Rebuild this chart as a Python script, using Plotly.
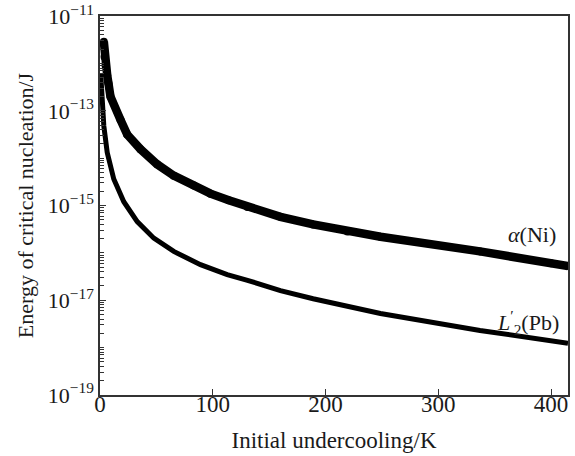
import plotly.graph_objects as go

# alpha(Ni) curve: undercooling (K) and log10 of energy (J)
ni_dT = [3.4, 4.0, 4.9, 6.4, 7.5, 9.3, 18.2, 24.1, 35.9, 50.7, 65.4, 83.2, 98,
         114.2, 130.8, 160, 189, 219.4, 248.7, 337, 400, 415]
ni_logE = [-11.54, -11.86, -12.04, -12.25, -12.42, -12.70, -13.19, -13.50, -13.81,
           -14.13, -14.37, -14.58, -14.75, -14.89, -15.03, -15.24, -15.40, -15.55,
           -15.66, -15.97, -16.22, -16.28]

# L'2(Pb) curve
pb_dT = [0.6, 3.4, 6.4, 12.2, 21.1, 33, 47.7, 65.4, 89.1, 112.8, 130.8, 160, 189,
         219, 248.7, 337, 400, 415]
pb_logE = [-12.21, -13.32, -13.88, -14.44, -14.92, -15.34, -15.69, -15.97, -16.25,
           -16.46, -16.58, -16.80, -16.97, -17.12, -17.28, -17.64, -17.87, -17.91]

ni_E = [10 ** v for v in ni_logE]
pb_E = [10 ** v for v in pb_logE]

y_tick_exp = [-19, -17, -15, -13, -11]
y_tickvals = [10.0 ** e for e in y_tick_exp]
y_ticktext = ["10<sup>\u2212%d</sup>" % (-e) for e in y_tick_exp]
x_tickvals = [0, 100, 200, 300, 400]

FONT = "Liberation Serif"
INK = "#1a1a1a"

fig = go.Figure()
fig.add_trace(go.Scatter(
    x=ni_dT, y=ni_E, mode="lines+markers",
    line=dict(color="black", width=8.5),
    marker=dict(symbol="circle", size=8, color="black"),
    showlegend=False))
fig.add_trace(go.Scatter(
    x=pb_dT, y=pb_E, mode="lines",
    line=dict(color="black", width=5),
    showlegend=False))

fig.add_annotation(xref="paper", yref="paper", x=0.978, y=0.423,
                   xanchor="right", yanchor="middle", showarrow=False,
                   text="<i>\u03b1</i>(Ni)", font=dict(family=FONT, size=22, color=INK))
fig.add_annotation(xref="paper", yref="paper", x=0.985, y=0.19,
                   xanchor="right", yanchor="middle", showarrow=False,
                   text="<i>L</i><sup>\u2032</sup><sub>2</sub>(Pb)",
                   font=dict(family=FONT, size=22, color=INK))

fig.update_xaxes(
    range=[0, 415], tickvals=x_tickvals, ticks="inside", ticklen=6,
    tickwidth=1.2, tickcolor="#333", showline=True, linecolor="#333",
    linewidth=1.5, mirror=True, showgrid=False, zeroline=False,
    ticklabelstandoff=-12,
    tickfont=dict(family=FONT, size=23, color=INK),
    title=dict(text="Initial undercooling/K", standoff=16,
               font=dict(family=FONT, size=23, color=INK)))
fig.update_yaxes(
    type="log", range=[-19.003, -10.997], tickvals=y_tickvals, ticktext=y_ticktext,
    ticks="inside", ticklen=6, tickwidth=1.2, tickcolor="#333",
    ticklabeloverflow="allow",
    minor=dict(ticks="inside", ticklen=4, tickwidth=1, dtick="D1",
               tickcolor="#333", showgrid=False),
    showline=True, linecolor="#333", linewidth=1.5, mirror=True,
    showgrid=False, zeroline=False,
    tickfont=dict(family=FONT, size=22, color=INK),
    title=dict(text="Energy of critical nucleation/J", standoff=8,
               font=dict(family=FONT, size=22, color=INK)))

fig.update_layout(
    width=575, height=456,
    margin=dict(l=100, r=7, t=16, b=61, autoexpand=False),
    paper_bgcolor="white", plot_bgcolor="white",
    font=dict(family=FONT, color=INK))

fig.write_html("out.html", config={"displayModeBar": False},
               post_script="document.body.style.margin='0';")
